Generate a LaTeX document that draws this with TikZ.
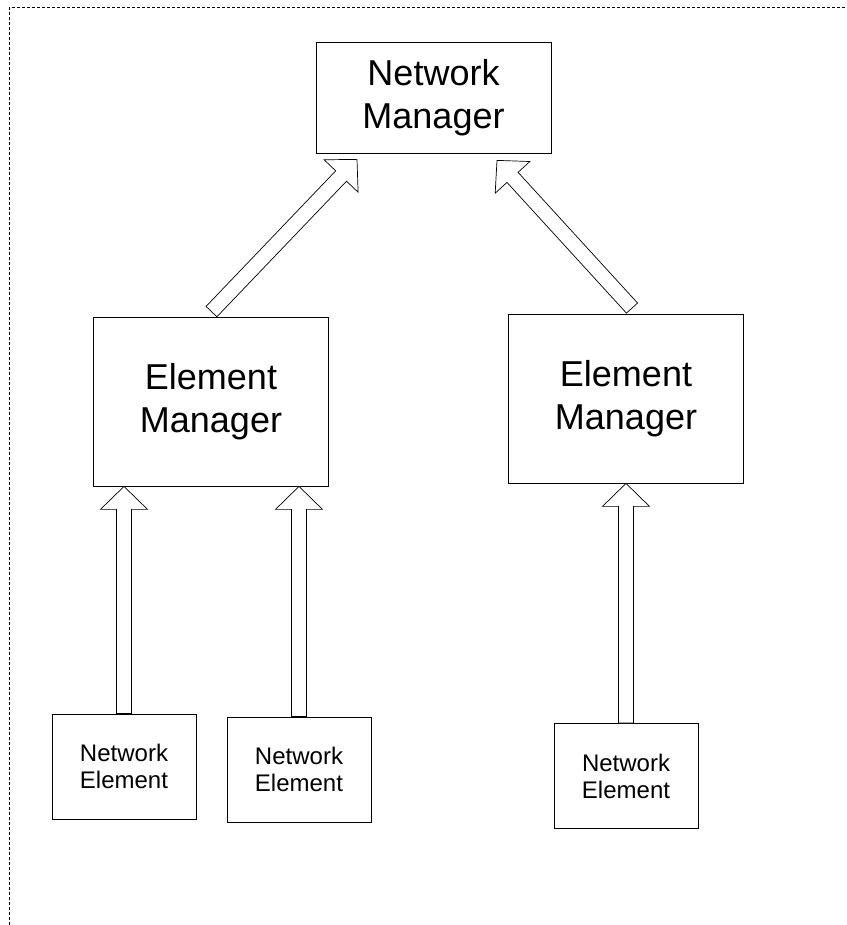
\documentclass[tikz,border=0pt]{standalone}
\usepackage{fontspec}
\setmainfont{Liberation Sans}
\usetikzlibrary{calc}
\newcommand\blockarrow[2]{%
  \coordinate (h) at ($(#2)!23pt!(#1)$);
  \draw[hollow] ($(#1)!7.5pt!-90:(#2)$) -- ($(h)!7.5pt!-90:(#2)$) -- ($(h)!23.5pt!-90:(#2)$) -- (#2) -- ($(h)!23.5pt!90:(#2)$) -- ($(h)!7.5pt!90:(#2)$) -- ($(#1)!7.5pt!90:(#2)$) -- cycle;}
\begin{document}
\begin{tikzpicture}[x=1pt,y=1pt,
  mgrbox/.style={draw,fill=white,line width=0.8pt,inner sep=0pt,align=center,minimum width=235pt,font=\fontsize{36}{43}\selectfont},
  nebox/.style={draw,fill=white,line width=0.8pt,inner sep=0pt,align=center,minimum width=144pt,minimum height=105pt,font=\fontsize{24}{27}\selectfont},
  hollow/.style={draw,fill=white,line width=0.7pt,line join=miter},
  frame/.style={line width=1pt,dash pattern=on 3pt off 2pt}]
\useasboundingbox (0,0) rectangle (846,925);
\draw[frame] (9,0) -- (9,917) -- (846,917);
\node[mgrbox,minimum height=111pt] (nm) at (433.5,827.5) {Network\\Manager};
\node[mgrbox,minimum height=169pt] (em1) at (211,523.5) {Element\\Manager};
\node[mgrbox,minimum height=169pt] (em2) at (626,526.5) {Element\\Manager};
\node[nebox] (ne1) at (124,158.5) {Network\\Element};
\node[nebox] (ne2) at (299,155.5) {Network\\Element};
\node[nebox] (ne3) at (626,149) {Network\\Element};
\coordinate (tailL) at ($(em1.north)+(0.5,5)$);
\coordinate (tipL) at ($(nm.south)+(-76.5,-6)$);
\coordinate (tailR) at ($(em2.north)+(6,5.5)$);
\coordinate (tipR) at ($(nm.south)+(63.5,-7)$);
\coordinate (tip1) at (ne1.north |- em1.south);
\coordinate (tip2) at (ne2.north |- em1.south);
\coordinate (tip3) at (ne3.north |- em2.south);
\blockarrow{tailL}{tipL}
\blockarrow{tailR}{tipR}
\blockarrow{ne1.north}{tip1}
\blockarrow{ne2.north}{tip2}
\blockarrow{ne3.north}{tip3}
\end{tikzpicture}
\end{document}
